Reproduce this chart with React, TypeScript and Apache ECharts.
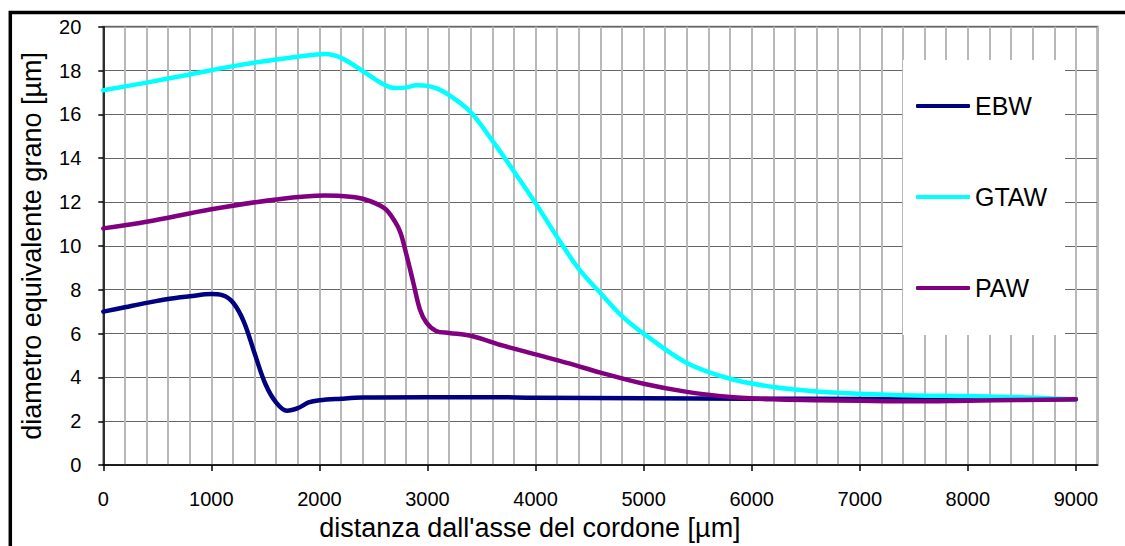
import React, { useEffect, useRef } from "react";
import * as echarts from "echarts";

// ---- data ----
const seriesNames = ["EBW", "GTAW", "PAW"];
const seriesColors = ["#000080", "#00FFFF", "#800080"];

const xTickLabels = [0, 1000, 2000, 3000, 4000, 5000, 6000, 7000, 8000, 9000];

const ebwX = [0, 200, 400, 600, 800, 1000, 1100, 1200, 1300, 1400, 1500, 1600, 1700, 1800, 1900, 2000, 2200, 2400, 3000, 3600, 4000, 5000, 6000, 7000, 8000, 9000];
const ebwY = [7.0, 7.2, 7.4, 7.58, 7.7, 7.8, 7.75, 7.42, 6.55, 5.1, 3.7, 2.85, 2.48, 2.6, 2.86, 2.96, 3.03, 3.08, 3.1, 3.1, 3.07, 3.05, 3.03, 3.02, 3.0, 3.0];

const gtawX = [0, 400, 800, 1200, 1600, 1800, 2050, 2200, 2400, 2600, 2700, 2800, 2900, 3000, 3100, 3200, 3400, 3600, 3800, 4000, 4200, 4400, 4600, 4800, 5000, 5400, 5800, 6200, 6600, 7000, 7500, 8000, 8500, 9000];
const gtawY = [17.1, 17.45, 17.82, 18.2, 18.5, 18.63, 18.75, 18.58, 17.98, 17.35, 17.2, 17.22, 17.33, 17.3, 17.15, 16.88, 16.1, 14.8, 13.4, 11.95, 10.4, 8.95, 7.85, 6.8, 6.0, 4.66, 3.94, 3.56, 3.36, 3.26, 3.18, 3.15, 3.1, 3.0];

const pawX = [0, 400, 1000, 1600, 2050, 2200, 2400, 2600, 2700, 2750, 2800, 2870, 2930, 2990, 3080, 3200, 3400, 3700, 4000, 4300, 4600, 5000, 5400, 5800, 6200, 6600, 7000, 7500, 8000, 8500, 9000];
const pawY = [10.8, 11.1, 11.67, 12.12, 12.3, 12.28, 12.15, 11.72, 11.1, 10.6, 9.7, 8.3, 7.1, 6.5, 6.12, 6.03, 5.9, 5.45, 5.05, 4.65, 4.22, 3.71, 3.34, 3.11, 3.0, 2.96, 2.93, 2.91, 2.94, 2.97, 3.0];

const seriesX = [ebwX, gtawX, pawX];
const seriesY = [ebwY, gtawY, pawY];

const xTitle = "distanza dall'asse del cordone [µm]";
const yTitle = "diametro equivalente grano [µm]";

const FONT = "'Liberation Sans', Arial, sans-serif";

export default function App() {
  const ref = useRef<HTMLDivElement>(null);

  useEffect(() => {
    if (!ref.current) return;
    const chart = echarts.init(ref.current, null, { renderer: "svg" });

    const series = seriesNames.map((name, i) => ({
      name,
      type: "line",
      xAxisIndex: 0,
      yAxisIndex: 0,
      data: seriesX[i].map((x, j) => [x, seriesY[i][j]]),
      showSymbol: false,
      symbol: "none",
      smooth: 0.35,
      lineStyle: { color: seriesColors[i], width: 4.5, cap: "round", join: "round" },
      itemStyle: { color: seriesColors[i] },
      z: 3,
    }));

    chart.setOption({
      animation: false,
      textStyle: { fontFamily: FONT, color: "#000" },
      grid: {
        left: 103.3,
        top: 26.7,
        right: 27.5,
        bottom: 75.3,
        show: true,
        borderColor: "#808080",
        borderWidth: 2,
        containLabel: false,
      },
      graphic: [
        {
          type: "rect",
          z: 1,
          shape: { x: 903, y: 60, width: 162, height: 275 },
          style: { fill: "#ffffff" },
        },
        {
          type: "rect",
          z: 10,
          shape: { x: 10.3, y: 12.5, width: 1300, height: 700 },
          style: { fill: "none", stroke: "#000", lineWidth: 3.5 },
        },
      ],
      legend: {
        data: seriesNames,
        orient: "vertical",
        left: 916,
        top: 93,
        padding: 0,
        itemWidth: 54,
        itemHeight: 4,
        itemGap: 65,
        icon: "roundRect",
        selectedMode: false,
        textStyle: { fontSize: 25, lineHeight: 26, color: "#000", fontFamily: FONT, padding: [0, 0, 0, 0] },
      },
      xAxis: [
        {
          type: "value",
          position: "bottom",
          min: 0,
          max: 9200,
          interval: 200,
          name: xTitle,
          nameLocation: "middle",
          nameGap: 47,
          nameTextStyle: { fontSize: 27, color: "#000", fontFamily: FONT, padding: [0, 141, 0, 0] },
          axisLine: { show: true, onZero: false, lineStyle: { color: "#000", width: 1.5 } },
          axisTick: { show: true, customValues: xTickLabels, length: 6, lineStyle: { color: "#000", width: 1.5 } },
          axisLabel: {
            customValues: xTickLabels,
            fontSize: 20,
            margin: 24,
            color: "#000",
            fontFamily: FONT,
            formatter: (v: number) => String(v),
          },
          splitLine: { show: false },
          z: 2,
        },
        {
          type: "value",
          position: "bottom",
          min: 0,
          max: 9200,
          interval: 200,
          axisLine: { show: false },
          axisTick: { show: false },
          axisLabel: { show: false },
          splitLine: { show: true, lineStyle: { color: "#b8b8b8", width: 2 } },
          z: 0,
        },
      ],
      yAxis: {
        type: "value",
        min: 0,
        max: 20,
        interval: 2,
        name: yTitle,
        nameLocation: "middle",
        nameGap: 58,
        nameTextStyle: { fontSize: 27, color: "#000", fontFamily: FONT },
        axisLine: { show: true, onZero: false, lineStyle: { color: "#000", width: 1.5 } },
        axisTick: { show: true, length: 5, lineStyle: { color: "#000", width: 1.5 } },
        axisLabel: { fontSize: 20, margin: 22, color: "#000", fontFamily: FONT },
        splitLine: { show: true, lineStyle: { color: "#666666", width: 1.2 } },
      },
      series,
    });

    return () => chart.dispose();
  }, []);

  return (
    <div
      ref={ref}
      style={{ position: "absolute", left: 0, top: 0, width: 1125, height: 546, background: "#ffffff" }}
    />
  );
}
